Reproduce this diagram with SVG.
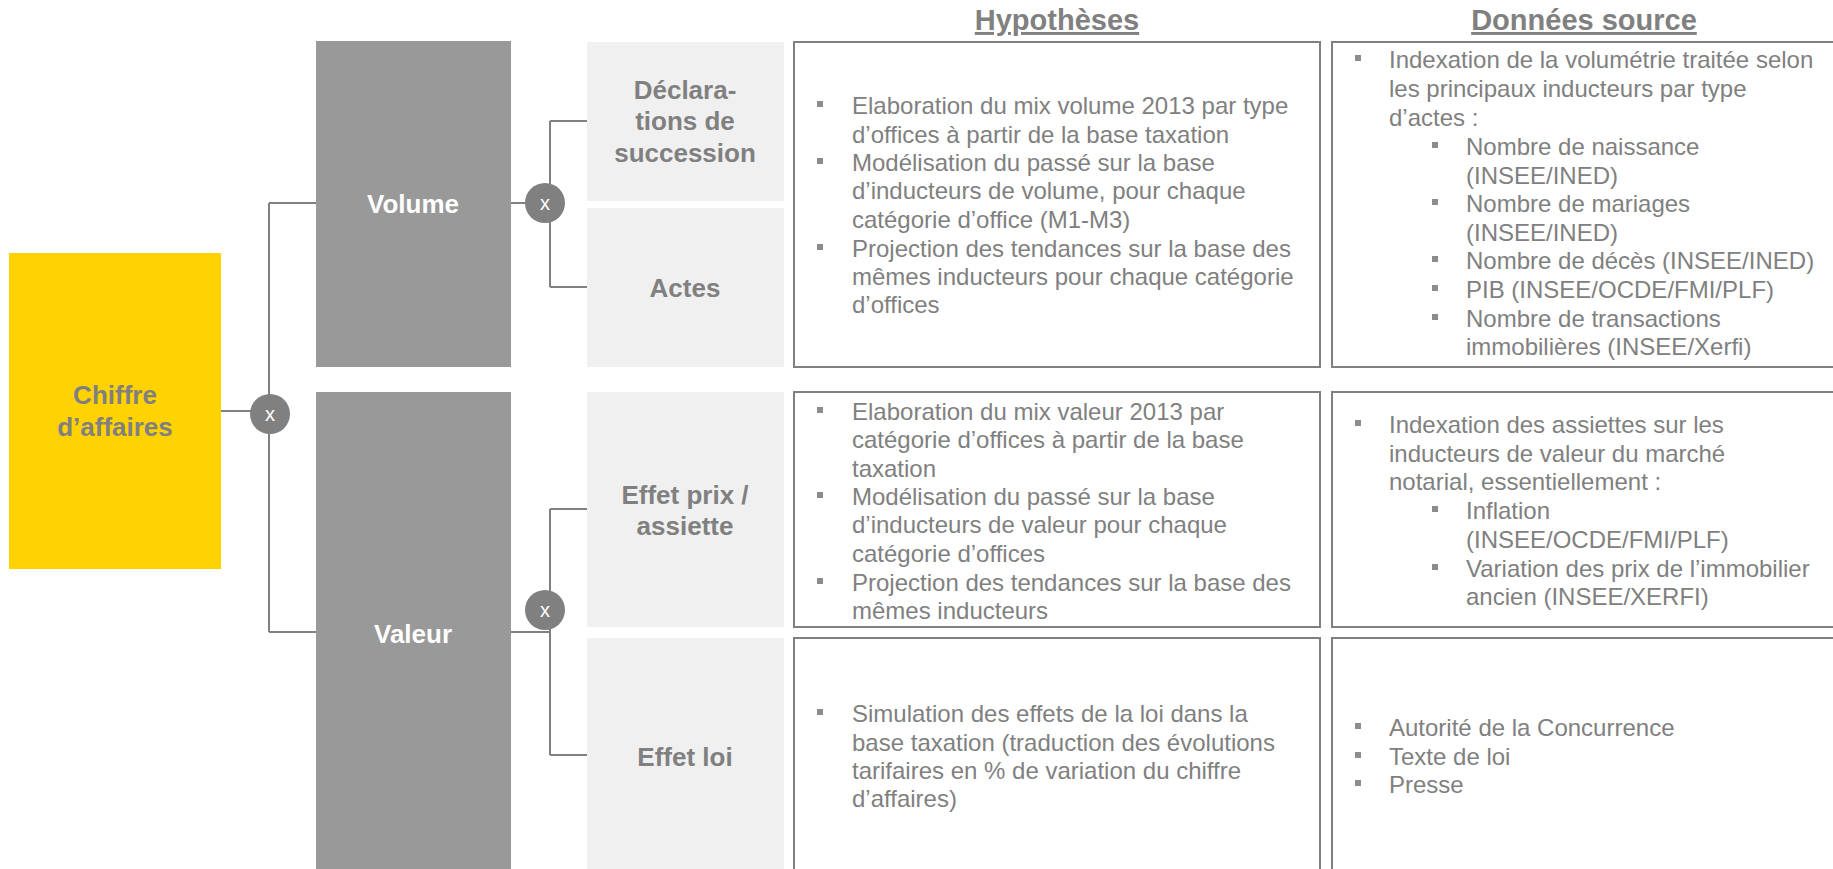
<svg xmlns="http://www.w3.org/2000/svg" width="1833" height="869" viewBox="0 0 1833 869">
<style>
.t{font-family:"Liberation Sans",Arial,sans-serif;font-size:24px;fill:#808080}
.b{font-family:"Liberation Sans",Arial,sans-serif;font-weight:bold;font-size:26px;fill:#808080;text-anchor:middle}
.w{font-family:"Liberation Sans",Arial,sans-serif;font-weight:bold;font-size:26px;fill:#ffffff;text-anchor:middle}
.h{font-family:"Liberation Sans",Arial,sans-serif;font-weight:bold;font-size:29px;fill:#808080;text-anchor:middle;text-decoration:underline}
.x{font-family:"Liberation Sans",Arial,sans-serif;font-size:20px;fill:#ffffff;text-anchor:middle}
.box{fill:#ffffff;stroke:#808080;stroke-width:2}
.lg{fill:#f0f0f0}
.dg{fill:#999999}
.c{fill:#808080}
.ln{fill:none;stroke:#808080;stroke-width:2}
.bu{fill:#8c8c8c}
</style>
<defs>
<rect id="bul" width="6" height="6" class="bu"/>
</defs>
<text class="h" x="1057" y="30">Hypothèses</text>
<text class="h" x="1584" y="30">Données source</text>
<g id="connectors">
<path class="ln" d="M221,411 H252 M269,203 V632 M269,203 H316 M269,632 H316"/>
<path class="ln" d="M511,203 H530 M550,121 V287 M550,121 H587 M550,287 H587"/>
<path class="ln" d="M511,632 H550 M550,509 V755 M550,509 H587 M550,755 H587"/>
</g>
<g id="chiffre">
<rect x="9" y="253" width="212" height="316" fill="#ffd200"/>
<text class="b" x="115" y="404">Chiffre</text>
<text class="b" x="115" y="436">d’affaires</text>
</g>
<g id="op1">
<circle class="c" cx="270" cy="414" r="20"/>
<text class="x" x="270" y="421">x</text>
</g>
<g id="volume">
<rect class="dg" x="316" y="41" width="195" height="326"/>
<text class="w" x="413" y="213">Volume</text>
</g>
<g id="valeur">
<rect class="dg" x="316" y="392" width="195" height="480"/>
<text class="w" x="413" y="643">Valeur</text>
</g>
<g id="op2">
<circle class="c" cx="545" cy="203" r="20"/>
<text class="x" x="545" y="210">x</text>
</g>
<g id="op3">
<circle class="c" cx="545" cy="610" r="20"/>
<text class="x" x="545" y="617">x</text>
</g>
<g id="declarations">
<rect class="lg" x="587" y="42" width="197" height="159"/>
<text class="b" x="685" y="99">Déclara-</text>
<text class="b" x="685" y="130">tions de</text>
<text class="b" x="685" y="162">succession</text>
</g>
<g id="actes">
<rect class="lg" x="587" y="208" width="197" height="159"/>
<text class="b" x="685" y="297">Actes</text>
</g>
<g id="effetprix">
<rect class="lg" x="587" y="392" width="197" height="235"/>
<text class="b" x="685" y="504">Effet prix /</text>
<text class="b" x="685" y="535">assiette</text>
</g>
<g id="effetloi">
<rect class="lg" x="587" y="638" width="197" height="234"/>
<text class="b" x="685" y="766">Effet loi</text>
</g>
<g id="hyp1">
<rect class="box" x="794" y="42" width="526" height="325"/>
<use href="#bul" x="817" y="101"/>
<use href="#bul" x="817" y="158"/>
<use href="#bul" x="817" y="244"/>
<text class="t" x="852" y="114">Elaboration du mix volume 2013 par type</text>
<text class="t" x="852" y="143">d’offices à partir de la base taxation</text>
<text class="t" x="852" y="171">Modélisation du passé sur la base</text>
<text class="t" x="852" y="199">d’inducteurs de volume, pour chaque</text>
<text class="t" x="852" y="228">catégorie d’office (M1-M3)</text>
<text class="t" x="852" y="257">Projection des tendances sur la base des</text>
<text class="t" x="852" y="285">mêmes inducteurs pour chaque catégorie</text>
<text class="t" x="852" y="313">d’offices</text>
</g>
<g id="hyp2">
<rect class="box" x="794" y="392" width="526" height="235"/>
<use href="#bul" x="817" y="407"/>
<use href="#bul" x="817" y="492"/>
<use href="#bul" x="817" y="578"/>
<text class="t" x="852" y="420">Elaboration du mix valeur 2013 par</text>
<text class="t" x="852" y="448">catégorie d’offices à partir de la base</text>
<text class="t" x="852" y="477">taxation</text>
<text class="t" x="852" y="505">Modélisation du passé sur la base</text>
<text class="t" x="852" y="533">d’inducteurs de valeur pour chaque</text>
<text class="t" x="852" y="562">catégorie d’offices</text>
<text class="t" x="852" y="591">Projection des tendances sur la base des</text>
<text class="t" x="852" y="619">mêmes inducteurs</text>
</g>
<g id="hyp3">
<rect class="box" x="794" y="638" width="526" height="240"/>
<use href="#bul" x="817" y="709"/>
<text class="t" x="852" y="722">Simulation des effets de la loi dans la</text>
<text class="t" x="852" y="751">base taxation (traduction des évolutions</text>
<text class="t" x="852" y="779">tarifaires en % de variation du chiffre</text>
<text class="t" x="852" y="807">d’affaires)</text>
</g>
<g id="src1">
<rect class="box" x="1332" y="42" width="510" height="325"/>
<use href="#bul" x="1355" y="55"/>
<text class="t" x="1389" y="68">Indexation de la volumétrie traitée selon</text>
<text class="t" x="1389" y="97">les principaux inducteurs par type</text>
<text class="t" x="1389" y="126">d’actes :</text>
<use href="#bul" x="1432" y="142"/>
<use href="#bul" x="1432" y="199"/>
<use href="#bul" x="1432" y="256"/>
<use href="#bul" x="1432" y="285"/>
<use href="#bul" x="1432" y="314"/>
<text class="t" x="1466" y="155">Nombre de naissance</text>
<text class="t" x="1466" y="184">(INSEE/INED)</text>
<text class="t" x="1466" y="212">Nombre de mariages</text>
<text class="t" x="1466" y="241">(INSEE/INED)</text>
<text class="t" x="1466" y="269">Nombre de décès (INSEE/INED)</text>
<text class="t" x="1466" y="298">PIB (INSEE/OCDE/FMI/PLF)</text>
<text class="t" x="1466" y="327">Nombre de transactions</text>
<text class="t" x="1466" y="355">immobilières (INSEE/Xerfi)</text>
</g>
<g id="src2">
<rect class="box" x="1332" y="392" width="510" height="235"/>
<use href="#bul" x="1355" y="420"/>
<text class="t" x="1389" y="433">Indexation des assiettes sur les</text>
<text class="t" x="1389" y="462">inducteurs de valeur du marché</text>
<text class="t" x="1389" y="490">notarial, essentiellement :</text>
<use href="#bul" x="1432" y="506"/>
<use href="#bul" x="1432" y="564"/>
<text class="t" x="1466" y="519">Inflation</text>
<text class="t" x="1466" y="548">(INSEE/OCDE/FMI/PLF)</text>
<text class="t" x="1466" y="577">Variation des prix de l’immobilier</text>
<text class="t" x="1466" y="605">ancien (INSEE/XERFI)</text>
</g>
<g id="src3">
<rect class="box" x="1332" y="638" width="510" height="240"/>
<use href="#bul" x="1355" y="723"/>
<use href="#bul" x="1355" y="752"/>
<use href="#bul" x="1355" y="780"/>
<text class="t" x="1389" y="736">Autorité de la Concurrence</text>
<text class="t" x="1389" y="765">Texte de loi</text>
<text class="t" x="1389" y="793">Presse</text>
</g>
</svg>
